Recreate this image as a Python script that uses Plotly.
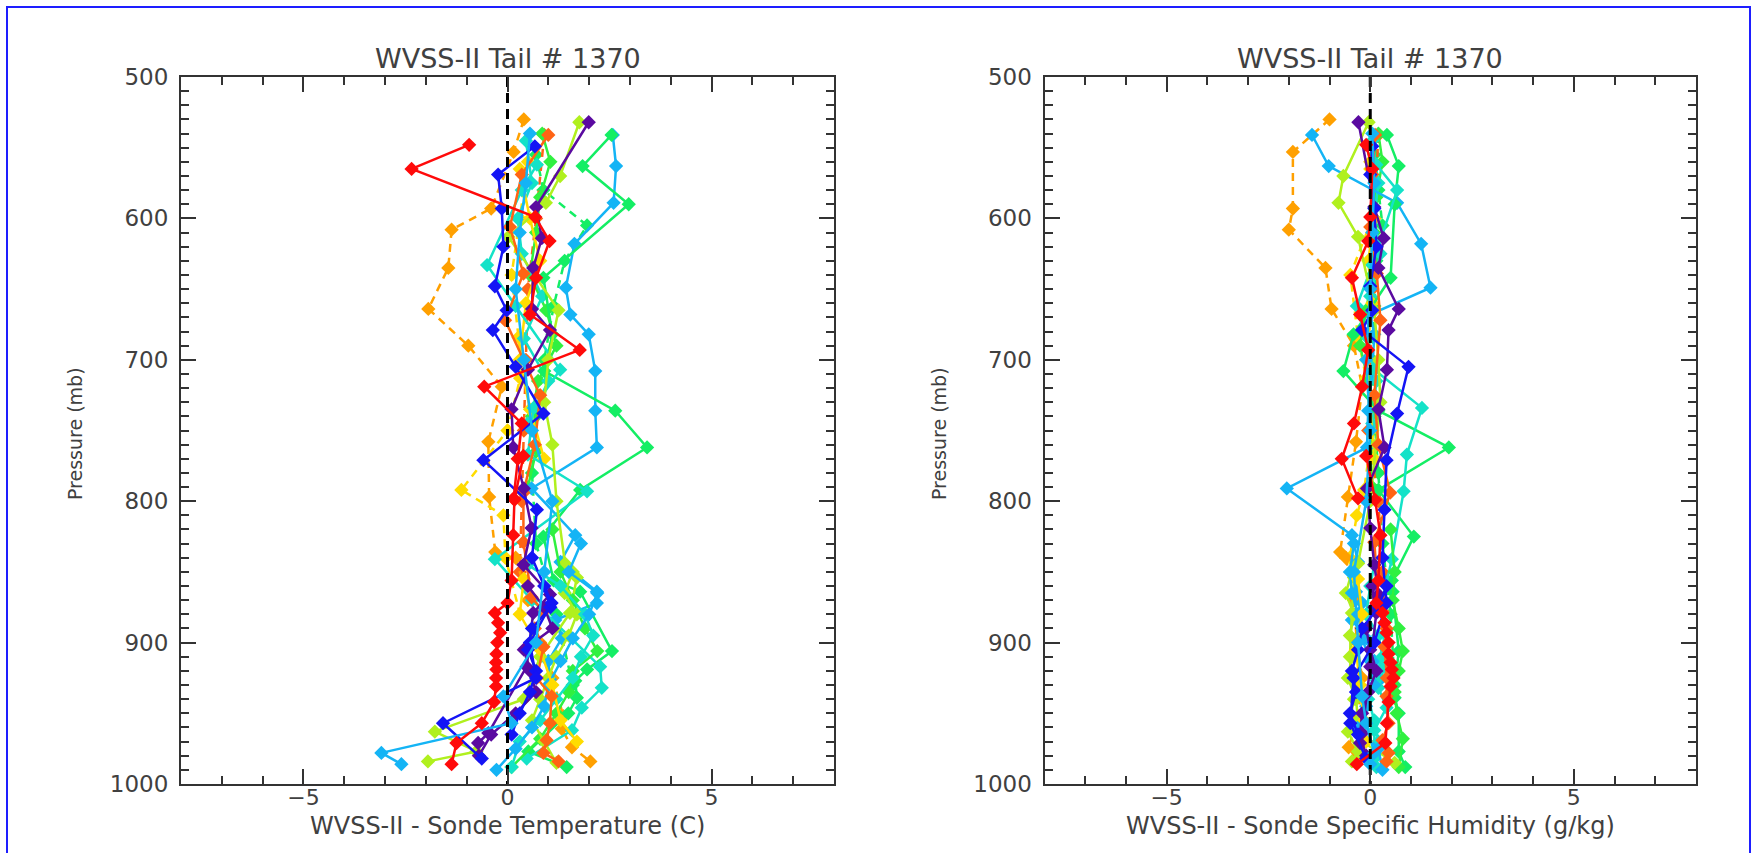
import plotly.graph_objects as go

# ---------------- data (pressure mb, T diff C, q diff g/kg) ----------------
p_red_a = [548, 565, 599, 616, 642, 668, 693, 719, 745, 770, 798]
t_red_a = [-0.94, -2.35, 0.68, 1.03, 0.70, 0.55, 1.77, -0.57, 0.35, 0.25, 0.15]
q_red_a = [-0.10, 0.05, 0.00, -0.05, -0.45, -0.25, -0.05, -0.20, -0.40, -0.70, -0.30]

p_red_b = [768, 799, 824, 856, 872, 879, 886, 893, 900, 908, 914, 919, 925, 931, 942, 957, 971, 986]
t_red_b = [0.39, 0.17, 0.14, 0.10, 0.00, -0.31, -0.23, -0.18, -0.25, -0.27, -0.28, -0.27, -0.28, -0.28, -0.33, -0.63, -1.25, -1.37]
q_red_b = [-0.10, 0.12, 0.25, 0.20, 0.15, 0.30, 0.35, 0.40, 0.45, 0.45, 0.50, 0.53, 0.57, 0.50, 0.45, 0.41, 0.37, -0.33]

p_sky_a = [541, 563, 589, 618, 649, 668, 682, 708, 736, 762, 791, 824, 843, 864, 872, 884, 897, 913, 926]
t_sky_a = [2.58, 2.66, 2.60, 1.64, 1.43, 1.54, 1.99, 2.15, 2.15, 2.19, 0.59, 1.66, 1.30, 2.19, 2.19, 1.17, 1.33, 1.00, 1.04]
q_sky_a = [-1.43, -1.02, 0.66, 1.25, 1.48, 0.00, 0.10, 0.05, -0.05, -0.08, -2.05, -0.45, -0.30, -0.35, -0.20, -0.45, -0.10, 0.10, 0.25]

p_spring_a = [541, 563, 590, 642, 682, 708, 736, 762, 792, 825, 856, 864, 906, 919, 927, 939, 950, 977, 988]
t_spring_a = [2.55, 1.84, 2.97, 0.88, 1.10, 0.90, 2.64, 3.42, 1.78, 0.88, 1.13, 1.78, 2.56, 1.95, 1.66, 1.70, 1.49, 0.51, 1.45]
q_spring_a = [0.41, 0.70, 0.60, 0.50, -0.41, -0.66, 0.20, 1.93, 0.20, 1.07, 0.53, 0.55, 0.70, 0.65, 0.50, 0.60, 0.70, 0.70, 0.86]

p_turq_a = [562, 580, 633, 662, 707, 734, 767, 793, 841, 870, 917, 932, 946, 962, 982]
t_turq_a = [0.72, 0.35, -0.50, 0.20, 1.29, 0.64, 0.50, 1.95, -0.31, 0.60, 2.27, 2.31, 1.82, 1.58, 0.47]
q_turq_a = [0.15, 0.66, 0.05, -0.33, 0.10, 1.27, 0.90, 0.82, 0.53, 0.30, 0.35, 0.20, 0.40, 0.10, 0.10]

p_blue_a = [549, 569, 593, 620, 648, 665, 679, 705, 738, 771, 806, 840, 872, 900, 925, 957, 982]
t_blue_a = [0.67, -0.23, -0.14, -0.10, -0.31, -0.02, -0.36, 0.20, 0.88, -0.59, 0.72, 0.60, 1.08, 0.55, 0.70, -1.58, -0.63]
q_blue_a = [0.05, 0.00, 0.10, 0.15, 0.00, 0.05, -0.20, 0.94, 0.66, 0.40, 0.35, 0.30, 0.40, 0.10, -0.41, -0.49, -0.10]

p_purple_a = [532, 592, 614, 635, 664, 679, 707, 735, 762, 791, 819, 845, 866, 879, 917, 964, 971]
t_purple_a = [1.99, 0.70, 0.84, 0.63, 0.60, 1.04, 0.50, 0.10, 0.14, 0.40, 0.59, 0.39, 1.04, 0.63, 0.47, -0.47, -0.72]
q_purple_a = [-0.29, 0.10, 0.33, 0.20, 0.70, 0.45, 0.41, 0.20, 0.35, -0.08, 0.00, 0.10, 0.20, 0.15, 0.00, -0.20, -0.25]

p_chart_a = [532, 570, 589, 613, 665, 700, 730, 760, 800, 844, 854, 879, 910, 940, 963, 977, 984]
t_chart_a = [1.76, 1.29, 0.94, 0.02, 1.25, 1.00, 0.90, 1.10, 1.20, 1.41, 1.70, 1.53, 0.80, 0.40, -1.78, -0.76, -1.95]
q_chart_a = [-0.04, -0.66, -0.78, -0.30, 0.10, 0.20, 0.25, 0.15, 0.00, -0.30, -0.40, -0.45, -0.50, -0.40, -0.55, -0.30, -0.45]

p_yellow_a = [560, 600, 640, 684, 713, 750, 792, 810, 840, 880]
t_yellow_a = [0.50, 0.30, 0.10, 0.27, 0.31, 0.00, -1.13, -0.10, -0.05, 0.31]
q_yellow_a = [0.00, 0.05, -0.49, -0.30, -0.10, 0.05, -0.15, -0.33, -0.50, -0.20]

p_orange_a = [530, 553, 593, 608, 635, 664, 690, 719, 758, 797, 836]
t_orange_a = [0.40, 0.15, -0.40, -1.37, -1.45, -1.94, -0.96, -0.14, -0.47, -0.45, -0.30]
q_orange_a = [-1.00, -1.90, -1.90, -2.00, -1.10, -0.95, -0.40, -0.20, -0.35, -0.55, -0.74]

p_orred_a = [541, 569, 606, 639, 672, 725, 760, 794, 829, 868, 878, 890, 903, 925, 938, 957, 969, 978, 984]
t_orred_a = [1.00, 0.35, 0.06, 0.39, -0.06, 0.80, 0.67, 0.39, 0.39, 0.59, 0.88, 0.67, 0.88, 0.72, 1.08, 1.04, 0.96, 0.88, 1.25]
q_orred_a = [0.12, 0.05, 0.00, 0.16, 0.25, 0.10, 0.20, 0.49, 0.10, 0.20, 0.30, 0.40, 0.35, 0.41, 0.40, 0.45, 0.30, 0.45, 0.40]

p_orange_b = [840, 870, 900, 925, 952, 961, 974, 984]
t_orange_b = [0.20, 0.50, 0.80, 1.10, 1.37, 1.33, 1.58, 2.03]
q_orange_b = [-0.60, -0.40, -0.33, -0.20, -0.30, -0.40, -0.53, -0.30]

p_spring_b = [555, 580, 605, 630, 662, 700, 740, 780, 830, 880, 930]
t_spring_b = [0.70, 0.88, 1.95, 1.40, 1.13, 0.90, 0.70, 0.60, 0.70, 1.20, 1.60]
q_spring_b = [0.10, 0.20, 0.30, 0.15, 0.10, 0.05, 0.10, 0.20, 0.30, 0.50, 0.60]

p_sky_b = [540, 575, 610, 650, 700, 750, 800, 850, 900, 938, 957, 978, 986]
t_sky_b = [0.55, 0.45, 0.30, 0.20, 0.40, 0.60, 1.10, 0.90, 0.70, -0.10, 0.10, -3.09, -2.60]
q_sky_b = [0.05, 0.10, 0.05, 0.00, -0.10, 0.00, -0.10, -0.40, -0.30, -0.20, -0.10, 0.10, 0.00]

p_green_a = [820, 850, 870, 890, 906, 920, 935, 950, 968, 988]
t_green_a = [1.10, 1.30, 1.60, 1.90, 2.20, 1.60, 1.50, 1.20, 0.80, 0.10]
q_green_a = [0.50, 0.60, 0.55, 0.70, 0.80, 0.70, 0.60, 0.65, 0.80, 0.70]

p_green_b = [540, 560, 585, 610, 640, 665, 690, 715, 740, 765, 790]
t_green_b = [0.85, 1.05, 0.80, 0.70, 0.55, 0.95, 1.20, 0.75, 0.60, 0.70, 0.50]
q_green_b = [0.20, 0.30, 0.15, 0.10, 0.05, -0.10, -0.25, -0.05, 0.10, 0.00, 0.05]

p_turq_c = [545, 575, 600, 625, 655, 685, 715, 745]
t_turq_c = [0.45, 0.60, 0.25, 0.35, 0.85, 0.40, 1.00, 0.50]
q_turq_c = [0.05, 0.20, 0.10, 0.25, 0.00, -0.05, 0.15, 0.05]

p_yellow_c = [565, 600, 630, 660, 700, 735, 770]
t_yellow_c = [0.30, 0.55, 0.80, 0.45, 0.30, 0.55, 0.90]
q_yellow_c = [0.00, 0.10, -0.05, 0.05, -0.10, 0.00, 0.10]

p_blue_b = [860, 875, 890, 905, 920, 935, 950, 965]
t_blue_b = [0.90, 1.05, 0.60, 0.50, 0.70, 0.55, 0.30, 0.10]
q_blue_b = [0.40, 0.20, -0.20, -0.30, -0.45, -0.35, -0.50, -0.30]

p_chart_b = [850, 865, 880, 895, 910, 925, 940, 955, 970, 985]
t_chart_b = [1.60, 1.40, 1.70, 1.50, 1.20, 1.00, 0.80, 0.60, 0.90, 1.20]
q_chart_b = [-0.45, -0.60, -0.40, -0.50, -0.45, -0.55, -0.35, -0.30, -0.20, 0.60]

p_turq_b = [845, 860, 880, 895, 910, 925, 940, 955, 970, 988]
t_turq_b = [0.50, 1.30, 1.90, 2.10, 1.80, 1.60, 1.20, 0.80, 0.30, 0.10]
q_turq_b = [0.10, 0.00, -0.10, 0.20, 0.30, 0.10, -0.05, 0.10, 0.20, 0.15]

p_sky_c = [830, 850, 865, 880, 897, 913, 930, 945, 960, 975, 990]
t_sky_c = [1.80, 1.50, 2.20, 2.00, 1.60, 1.30, 1.00, 0.90, 0.60, 0.20, -0.27]
q_sky_c = [-0.40, -0.50, -0.45, -0.30, -0.20, 0.00, 0.10, -0.10, -0.30, 0.20, 0.30]

p_purple_b = [860, 875, 890, 905, 920, 935, 950, 965, 980]
t_purple_b = [0.50, 0.90, 1.10, 0.40, 0.55, 0.70, 0.20, -0.40, -0.70]
q_purple_b = [0.05, 0.10, -0.10, 0.00, 0.15, -0.05, -0.20, -0.25, -0.10]

p_yellow_b = [855, 880, 905, 930, 955, 970]
t_yellow_b = [0.40, 0.30, 0.80, 1.10, 1.30, 1.70]
q_yellow_b = [-0.30, -0.20, -0.35, -0.25, -0.15, -0.10]

p_orred_b = [541, 600, 650, 700, 750, 800, 850]
t_orred_b = [0.90, 0.70, 0.50, 0.45, 0.40, 0.35, 0.30]
q_orred_b = [0.20, 0.10, 0.05, 0.00, -0.05, 0.20, 0.30]

zero_x = [0, 0]
zero_p = [500, 1000]

PURPLE = "#5a0aa0"
BLUE = "#1414f5"
SKY = "#14b4f5"
TURQ = "#14e2c8"
SPRING = "#14ee64"
GREEN = "#30f040"
CHART = "#b0f01e"
YELLOW = "#ffdc00"
ORANGE = "#ffa000"
ORRED = "#ff6414"
RED = "#ff0a0a"

profiles = [
    (p_orange_a, t_orange_a, q_orange_a, ORANGE, "dash"),
    (p_yellow_a, t_yellow_a, q_yellow_a, YELLOW, "dash"),
    (p_spring_b, t_spring_b, q_spring_b, SPRING, "dash"),
    (p_orred_b, t_orred_b, q_orred_b, ORRED, "dash"),
    (p_orange_b, t_orange_b, q_orange_b, ORANGE, "dash"),
    (p_green_b, t_green_b, q_green_b, GREEN, "solid"),
    (p_turq_c, t_turq_c, q_turq_c, TURQ, "solid"),
    (p_yellow_c, t_yellow_c, q_yellow_c, YELLOW, "solid"),
    (p_sky_a, t_sky_a, q_sky_a, SKY, "solid"),
    (p_spring_a, t_spring_a, q_spring_a, SPRING, "solid"),
    (p_turq_a, t_turq_a, q_turq_a, TURQ, "solid"),
    (p_chart_a, t_chart_a, q_chart_a, CHART, "solid"),
    (p_green_a, t_green_a, q_green_a, GREEN, "solid"),
    (p_chart_b, t_chart_b, q_chart_b, CHART, "solid"),
    (p_turq_b, t_turq_b, q_turq_b, TURQ, "solid"),
    (p_sky_c, t_sky_c, q_sky_c, SKY, "solid"),
    (p_yellow_b, t_yellow_b, q_yellow_b, YELLOW, "solid"),
    (p_orred_a, t_orred_a, q_orred_a, ORRED, "solid"),
    (p_purple_b, t_purple_b, q_purple_b, PURPLE, "solid"),
    (p_purple_a, t_purple_a, q_purple_a, PURPLE, "solid"),
    (p_blue_b, t_blue_b, q_blue_b, BLUE, "solid"),
    (p_blue_a, t_blue_a, q_blue_a, BLUE, "solid"),
    (p_sky_b, t_sky_b, q_sky_b, SKY, "solid"),
    (p_red_a, t_red_a, q_red_a, RED, "solid"),
    (p_red_b, t_red_b, q_red_b, RED, "solid"),
]

W, H = 1757, 853
FONT = "DejaVu Sans"
TXT = "#404040"
AX = "#333333"

fig = go.Figure()
for p, t, q, c, d in profiles:
    dash = "8px,6px" if d == "dash" else "solid"
    for xs, xa, ya in ((t, "x", "y"), (q, "x2", "y2")):
        fig.add_trace(go.Scatter(
            x=xs, y=p, xaxis=xa, yaxis=ya, mode="lines+markers",
            line=dict(color=c, width=2.5, dash=dash),
            marker=dict(symbol="diamond", size=11, color=c, line=dict(width=0)),
            showlegend=False, hoverinfo="skip"))

for xa, ya in (("x", "y"), ("x2", "y2")):
    fig.add_trace(go.Scatter(
        x=zero_x, y=zero_p, xaxis=xa, yaxis=ya, mode="lines",
        line=dict(color="black", width=3, dash="10px,6px"),
        showlegend=False, hoverinfo="skip"))


def xax(dom):
    return dict(
        domain=dom, range=[-8, 8], tickmode="linear", tick0=0, dtick=5,
        ticks="inside", ticklen=15, tickwidth=1.5, tickcolor=AX,
        minor=dict(tick0=0, dtick=1, ticks="inside", ticklen=8, tickwidth=1.5, tickcolor=AX),
        showline=True, linecolor=AX, linewidth=2, mirror="ticks",
        showgrid=False, zeroline=False, ticklabelstandoff=-7, automargin=False,
        tickfont=dict(family=FONT, size=22, color=TXT))


def yax(anchor):
    return dict(
        domain=[1 - 784 / H, 1 - 77 / H], range=[1000, 500], anchor=anchor,
        tickmode="linear", tick0=500, dtick=100,
        ticks="inside", ticklen=15, tickwidth=1.5, tickcolor=AX,
        minor=dict(tick0=500, dtick=10, ticks="inside", ticklen=8, tickwidth=1.5, tickcolor=AX),
        showline=True, linecolor=AX, linewidth=2, mirror="ticks",
        showgrid=False, zeroline=False, ticklabelstandoff=6, automargin=False,
        tickfont=dict(family=FONT, size=23, color=TXT))


xl = [181 / W, 834 / W]
xr = [1044.5 / W, 1696 / W]
fig.update_layout(
    width=W, height=H, autosize=False,
    margin=dict(l=0, r=0, t=0, b=0, pad=0, autoexpand=False),
    paper_bgcolor="white", plot_bgcolor="white",
    xaxis=dict(xax(xl), anchor="y"),
    yaxis=yax("x"),
    xaxis2=dict(xax(xr), anchor="y2"),
    yaxis2=yax("x2"),
)

ann = []
for cx, xt in ((507.5, "WVSS-II - Sonde Temperature (C)"),
               (1370, "WVSS-II - Sonde Specific Humidity (g/kg)")):
    ann.append(dict(text="WVSS-II Tail # 1370", x=cx / W, y=1 - 58 / H, xref="paper", yref="paper",
                    xanchor="center", yanchor="middle", showarrow=False,
                    font=dict(family=FONT, size=27, color=TXT)))
    ann.append(dict(text=xt, x=cx / W, y=1 - 826 / H, xref="paper", yref="paper",
                    xanchor="center", yanchor="middle", showarrow=False,
                    font=dict(family=FONT, size=24, color=TXT)))
for cx in (75, 939):
    ann.append(dict(text="Pressure (mb)", x=cx / W, y=1 - 434 / H, xref="paper", yref="paper",
                    xanchor="center", yanchor="middle", showarrow=False, textangle=-90,
                    font=dict(family=FONT, size=19, color=TXT)))
fig.update_layout(annotations=ann)

fig.add_shape(type="rect", xref="paper", yref="paper",
              x0=7 / W, x1=1750 / W, y0=-0.05, y1=1 - 7 / H,
              line=dict(color="#1e1eff", width=2), fillcolor="rgba(0,0,0,0)", layer="above")

fig.write_html("out.html")
